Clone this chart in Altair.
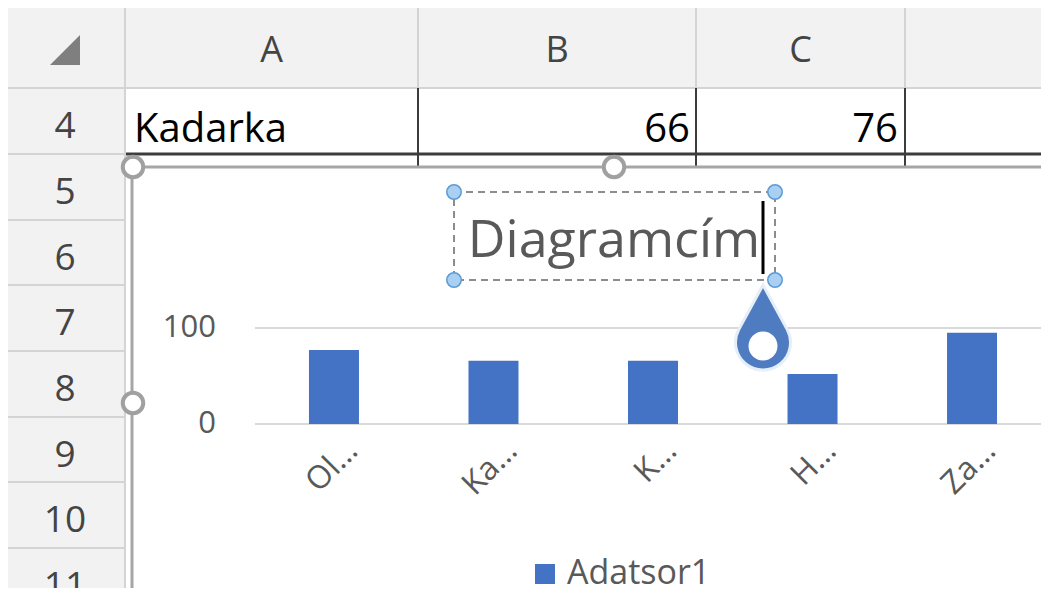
import altair as alt
import pandas as pd

# ---------------- data ----------------
categories = ["Ol…", "Ka…", "K…", "H…", "Za…"]
values = [77, 66, 66, 52, 95]
series_name = "Adatsor1"
y_ticks = [0, 100]
chart_title = "Diagramcím"
column_letters = ["A", "B", "C"]
row_numbers = ["4", "5", "6", "7", "8", "9", "10", "11"]
row4_cells = ["Kadarka", "66", "76"]

# ---------------- layout (reference-pixel geometry) ----------------
W, H = 1033, 580
OFF = 8
FONT = "Open Sans"
BAR_BLUE = "#4472C4"
TXT_GRAY = "#595959"

col_edges = [125, 418, 696, 905]
row_tops = [88, 154, 220, 285, 351, 417, 482, 548]
row_h = 66


def sx():
    return alt.Scale(domain=[OFF, OFF + W], range=[0, W])


def sy():
    return alt.Scale(domain=[OFF, OFF + H], range=[0, H])


def PX(f="x"):
    return alt.X(f"{f}:Q", scale=sx(), axis=None)


def PY(f="y"):
    return alt.Y(f"{f}:Q", scale=sy(), axis=None)


# --- spreadsheet backgrounds ---
bg = pd.DataFrame([
    dict(x=7, x2=1049, y=6, y2=88, c="#F2F2F2"),
    dict(x=7, x2=125, y=88, y2=600, c="#F2F2F2"),
])
bg_layer = alt.Chart(bg).mark_rect().encode(
    x=PX(), x2="x2:Q", y=PY(), y2="y2:Q", color=alt.Color("c:N", scale=None)
)

# --- spreadsheet lines ---
lines = []
LG = "#D4D4D4"
lines.append(dict(x=7, x2=1049, y=6, y2=6, c=LG, w=2))
lines.append(dict(x=7, x2=1049, y=88, y2=88, c=LG, w=2))
lines.append(dict(x=145, x2=145, y=0, y2=6, c=LG, w=2))
lines.append(dict(x=125, x2=125, y=6, y2=600, c=LG, w=2))
for e in col_edges[1:]:
    lines.append(dict(x=e, x2=e, y=6, y2=88, c=LG, w=2))
for t in row_tops[1:]:
    lines.append(dict(x=7, x2=125, y=t, y2=t, c=LG, w=2))
for e in col_edges[1:]:
    lines.append(dict(x=e, x2=e, y=88, y2=167, c="#3C3C3C", w=2))
lines.append(dict(x=126, x2=1049, y=154, y2=154, c="#3C3C3C", w=3))
lines.append(dict(x=6, x2=6, y=0, y2=600, c="#000000", w=3))
lines_df = pd.DataFrame(lines)
lines_layer = alt.Chart(lines_df).mark_rule().encode(
    x=PX(), x2="x2:Q", y=PY(), y2="y2:Q",
    color=alt.Color("c:N", scale=None),
    strokeWidth=alt.StrokeWidth("w:Q", scale=None),
)

# --- header texts ---
col_df = pd.DataFrame({
    "label": column_letters,
    "x": [(col_edges[i] + col_edges[i + 1]) / 2 for i in range(3)],
    "y": [51] * 3,
})
col_layer = alt.Chart(col_df).mark_text(
    font=FONT, fontSize=36, color="#444444", align="center", baseline="middle"
).encode(x=PX(), y=PY(), text="label:N")

row_df = pd.DataFrame({
    "label": row_numbers,
    "x": [65] * len(row_numbers),
    "y": [t + row_h / 2 + 6 for t in row_tops],
})
row_layer = alt.Chart(row_df).mark_text(
    font=FONT, fontSize=37, color="#444444", align="center", baseline="middle"
).encode(x=PX(), y=PY(), text="label:N")

corner_df = pd.DataFrame({"x": [65], "y": [50]})
corner_layer = alt.Chart(corner_df).mark_point(
    shape="M1,-1L1,1L-1,1Z", size=900, filled=True, color="#7F7F7F", opacity=1
).encode(x=PX(), y=PY())

cells_df = pd.DataFrame({
    "label": row4_cells,
    "x": [134, 690, 898],
    "y": [142, 142, 142],
})
cell_left = alt.Chart(cells_df.iloc[[0]]).mark_text(
    font=FONT, fontSize=40, color="#000000", align="left", baseline="alphabetic"
).encode(x=PX(), y=PY(), text="label:N")
cell_right = alt.Chart(cells_df.iloc[1:]).mark_text(
    font=FONT, fontSize=40, color="#000000", align="right", baseline="alphabetic"
).encode(x=PX(), y=PY(), text="label:N")

# --- chart object area ---
area_df = pd.DataFrame([dict(x=132, x2=1049, y=167, y2=600)])
area_layer = alt.Chart(area_df).mark_rect(color="#FFFFFF").encode(
    x=PX(), x2="x2:Q", y=PY(), y2="y2:Q"
)
border_df = pd.DataFrame([
    dict(x=132, x2=132, y=167, y2=600),
    dict(x=132, x2=1049, y=167, y2=167),
])
border_layer = alt.Chart(border_df).mark_rule(color="#A6A6A6", strokeWidth=3).encode(
    x=PX(), x2="x2:Q", y=PY(), y2="y2:Q"
)
handles_df = pd.DataFrame({"x": [133, 614, 133], "y": [167, 167, 403]})
handles_layer = alt.Chart(handles_df).mark_point(
    shape="circle", filled=True, fill="#FFFFFF", stroke="#A0A0A0",
    strokeWidth=4, size=420, opacity=1,
).encode(x=PX(), y=PY())

# --- bar chart ---
df = pd.DataFrame({"category": categories, "value": values,
                   "series": [series_name] * len(categories)})
band = alt.Scale(range=[254.25 - OFF, 1051.75 - OFF], paddingInner=0.6865, paddingOuter=0.343)
yscale = alt.Scale(domain=[0, 100], range=[424 - OFF, 328 - OFF], nice=False)

grid_df = pd.DataFrame({"v": y_ticks})
grid_layer = alt.Chart(grid_df).mark_rule(color="#D9D9D9", strokeWidth=2).encode(
    y=alt.Y("v:Q", scale=yscale, axis=None),
    x=alt.value(255 - OFF), x2=alt.value(W),
)
ticklab_layer = alt.Chart(grid_df).mark_text(
    font=FONT, fontSize=31, color=TXT_GRAY, align="right", baseline="middle"
).encode(
    y=alt.Y("v:Q", scale=yscale, axis=None),
    x=alt.value(216 - OFF),
    text="v:Q",
)

bars = alt.Chart(df).mark_bar(size=50).encode(
    x=alt.X("category:N", sort=categories, scale=band, axis=None),
    y=alt.Y("value:Q", scale=yscale, axis=None),
    color=alt.Color(
        "series:N",
        scale=alt.Scale(domain=[series_name], range=[BAR_BLUE]),
        legend=alt.Legend(
            title=None, orient="none", legendX=520, legendY=549,
            symbolType="square", symbolSize=400, symbolStrokeWidth=0,
            labelFont=FONT, labelFontSize=34, labelColor=TXT_GRAY,
            labelOffset=5, padding=0, rowPadding=0,
        ),
    ),
)
xlab_layer = alt.Chart(df).mark_text(
    font=FONT, fontSize=32, color=TXT_GRAY, align="right", baseline="middle",
    angle=315, dx=26,
).encode(
    x=alt.X("category:N", sort=categories, scale=band, axis=None),
    y=alt.value(464 - OFF),
    text="category:N",
)

# --- title (being edited) ---
title_df = pd.DataFrame({"t": [chart_title], "x": [614], "y": [257]})
title_layer = alt.Chart(title_df).mark_text(
    font=FONT, fontSize=52, color=TXT_GRAY, align="center", baseline="alphabetic"
).encode(x=PX(), y=PY(), text="t:N")
tbox_df = pd.DataFrame([dict(x=454, x2=775, y=192, y2=280)])
tbox_layer = alt.Chart(tbox_df).mark_rect(
    fillOpacity=0, stroke="#8C8C8C", strokeWidth=2, strokeDash=[7, 5]
).encode(x=PX(), x2="x2:Q", y=PY(), y2="y2:Q")
cursor_df = pd.DataFrame([dict(x=763, x2=763, y=201, y2=274)])
cursor_layer = alt.Chart(cursor_df).mark_rule(color="#000000", strokeWidth=3).encode(
    x=PX(), x2="x2:Q", y=PY(), y2="y2:Q"
)
thandles_df = pd.DataFrame({"x": [454, 775, 454, 775], "y": [192, 192, 280, 280]})
thandles_layer = alt.Chart(thandles_df).mark_point(
    shape="circle", filled=True, fill="#A9CFF2", stroke="#5B9BD5",
    strokeWidth=1.5, size=210, opacity=1,
).encode(x=PX(), y=PY())

drop_df = pd.DataFrame({"x": [763], "y": [327.5]})
drop_layer = alt.Chart(drop_df).mark_point(
    shape="M0,-1L0.568,0.044A0.647,0.647 0 1 1 -0.568,0.044Z",
    size=7225, filled=True, fill="#4F7CC0", stroke="#E6EEF8", strokeWidth=3, opacity=1,
).encode(x=PX(), y=PY())
hole_df = pd.DataFrame({"x": [763], "y": [346]})
hole_layer = alt.Chart(hole_df).mark_point(
    shape="circle", size=840, filled=True, fill="#FFFFFF", opacity=1
).encode(x=PX(), y=PY())

chart = alt.layer(
    bg_layer, lines_layer, col_layer, row_layer, corner_layer, cell_left, cell_right,
    area_layer, border_layer, handles_layer,
    grid_layer, ticklab_layer, bars, xlab_layer,
    title_layer, tbox_layer, cursor_layer, thandles_layer,
    drop_layer, hole_layer,
).resolve_scale(
    x="independent", y="independent", color="independent",
    strokeWidth="independent",
).properties(
    width=W, height=H, padding=0,
    autosize=alt.AutoSizeParams(type="none"),
).configure_view(stroke=None)

chart.save("out.html", embed_options={"renderer": "svg", "actions": False})
